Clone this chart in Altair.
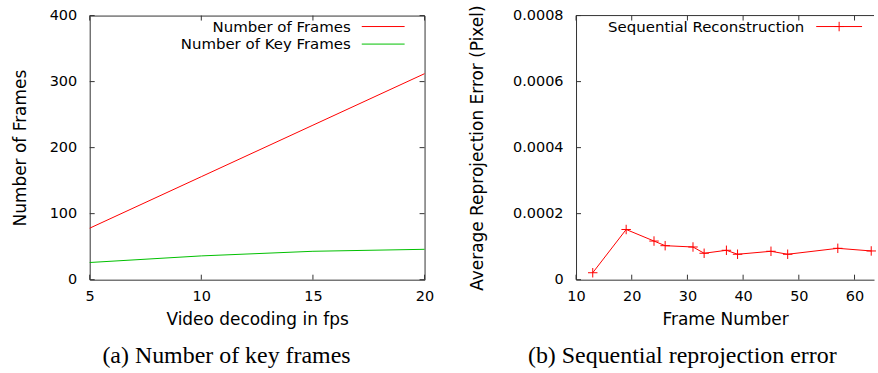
import altair as alt
import pandas as pd

# ---- data ----
fps = [5, 10, 15, 20]
num_frames = [78, 156, 234, 312]
num_key_frames = [26, 36, 43, 46]

frame_number = [13, 19, 24, 26, 31, 33, 37, 39, 45, 48, 57, 63]
reproj_error = [0.000021, 0.000152, 0.000117, 0.000103, 0.000099, 0.000080,
                0.000089, 0.000077, 0.000086, 0.000077, 0.000095, 0.000087]

left_xticks = [5, 10, 15, 20]
left_yticks = [0, 100, 200, 300, 400]
right_xticks = [10, 20, 30, 40, 50, 60]
right_yticks = [0, 0.0002, 0.0004, 0.0006, 0.0008]

series_names = ["Number of Frames", "Number of Key Frames"]
series_colors = ["#ff0000", "#00c000"]

FONT = "DejaVu Sans"
W1, W2, H = 336, 299, 265
TK = 5
FRAME = "#333333"
LBL = 14.5
TTL = 17
LEG = 15
CAP = 24

# ---- left panel ----
df_left = pd.DataFrame({
    "fps": fps * 2,
    "value": num_frames + num_key_frames,
    "series": [series_names[0]] * len(fps) + [series_names[1]] * len(fps),
})
xs1 = alt.Scale(domain=[5, 20], nice=False)
ys1 = alt.Scale(domain=[0, 400], nice=False)

xaxis1 = alt.Axis(values=left_xticks, title="Video decoding in fps", tickSize=0, domain=False,
                  grid=False, labelPadding=10, titlePadding=8, labelFlush=False)
yaxis1 = alt.Axis(values=left_yticks, title="Number of Frames", tickSize=0, domain=False,
                  grid=False, labelPadding=13, titlePadding=20, labelFlush=False)

lines1 = alt.Chart(df_left).mark_line(strokeWidth=1).encode(
    x=alt.X("fps:Q", scale=xs1, axis=xaxis1),
    y=alt.Y("value:Q", scale=ys1, axis=yaxis1),
    color=alt.Color("series:N", scale=alt.Scale(domain=series_names, range=series_colors), legend=None),
    detail="series:N",
)

xt1 = pd.DataFrame({"v": left_xticks})
yt1 = pd.DataFrame({"v": left_yticks})
ticks1 = [
    alt.Chart(xt1).mark_rule(color=FRAME).encode(x=alt.X("v:Q", scale=xs1), y=alt.value(H), y2=alt.value(H - TK)),
    alt.Chart(xt1).mark_rule(color=FRAME).encode(x=alt.X("v:Q", scale=xs1), y=alt.value(0), y2=alt.value(TK)),
    alt.Chart(yt1).mark_rule(color=FRAME).encode(y=alt.Y("v:Q", scale=ys1), x=alt.value(0), x2=alt.value(TK)),
    alt.Chart(yt1).mark_rule(color=FRAME).encode(y=alt.Y("v:Q", scale=ys1), x=alt.value(W1), x2=alt.value(W1 - TK)),
]

leg1 = []
for i, (name, col) in enumerate(zip(series_names, series_colors)):
    yy = 11 + 17.6 * i
    leg1.append(alt.Chart().mark_text(text=name, align="right", baseline="middle", font=FONT,
                                      fontSize=LEG, color="black")
                .encode(x=alt.value(262), y=alt.value(yy)))
    leg1.append(alt.Chart().mark_rule(color=col, strokeWidth=1)
                .encode(x=alt.value(273), x2=alt.value(316), y=alt.value(yy)))

left = alt.layer(lines1, *ticks1, *leg1).properties(
    width=W1, height=H,
    view=alt.ViewBackground(stroke=FRAME, strokeWidth=1),
    title=alt.TitleParams("(a) Number of key frames", orient="bottom", anchor="middle", frame="bounds",
                          font="Liberation Serif", fontSize=CAP, fontWeight="normal", color="black",
                          offset=17, dx=4),
)

# ---- right panel ----
df_right = pd.DataFrame({"frame": frame_number, "err": reproj_error})
xs2 = alt.Scale(domain=[10, 63.5], nice=False)
ys2 = alt.Scale(domain=[0, 0.0008], nice=False)

xaxis2 = alt.Axis(values=right_xticks, title="Frame Number", tickSize=0, domain=True, domainColor=FRAME,
                  grid=False, labelPadding=10, titlePadding=8, labelFlush=False)
yaxis2 = alt.Axis(values=right_yticks, title="Average Reprojection Error (Pixel)", tickSize=0, domain=True,
                  domainColor=FRAME, grid=False, labelPadding=13, titlePadding=26, labelFlush=False,
                  labelExpr="datum.value == 0 ? '0' : format(datum.value, '.4f')")

PLUS = "M-1,0H1M0,-1V1"
base2 = alt.Chart(df_right).encode(
    x=alt.X("frame:Q", scale=xs2, axis=xaxis2),
    y=alt.Y("err:Q", scale=ys2, axis=yaxis2),
)
line2 = base2.mark_line(color="#ff0000", strokeWidth=1)
pts2 = base2.mark_point(shape=PLUS, size=90, filled=False, color="#ff0000", strokeWidth=1, opacity=1)

xt2 = pd.DataFrame({"v": right_xticks})
yt2 = pd.DataFrame({"v": right_yticks})
ticks2 = [
    alt.Chart(xt2).mark_rule(color=FRAME).encode(x=alt.X("v:Q", scale=xs2), y=alt.value(H), y2=alt.value(H - TK)),
    alt.Chart(xt2).mark_rule(color=FRAME).encode(x=alt.X("v:Q", scale=xs2), y=alt.value(0), y2=alt.value(TK)),
    alt.Chart(yt2).mark_rule(color=FRAME).encode(y=alt.Y("v:Q", scale=ys2), x=alt.value(0), x2=alt.value(TK)),
    alt.Chart().mark_rule(color=FRAME).encode(x=alt.value(0), x2=alt.value(W2), y=alt.value(0)),
]

leg2 = [
    alt.Chart().mark_text(text="Sequential Reconstruction", align="right", baseline="middle", font=FONT,
                          fontSize=LEG, color="black").encode(x=alt.value(229), y=alt.value(11)),
    alt.Chart().mark_rule(color="#ff0000", strokeWidth=1).encode(x=alt.value(241), x2=alt.value(287),
                                                                 y=alt.value(11)),
    alt.Chart().mark_point(shape=PLUS, size=90, filled=False, color="#ff0000", strokeWidth=1, opacity=1)
    .encode(x=alt.value(264), y=alt.value(11)),
]

right = alt.layer(line2, pts2, *ticks2, *leg2).properties(
    width=W2, height=H,
    view=alt.ViewBackground(stroke=None),
    title=alt.TitleParams("(b) Sequential reprojection error", orient="bottom", anchor="middle",
                          frame="bounds", font="Liberation Serif", fontSize=CAP, fontWeight="normal",
                          color="black", offset=17, dx=9),
)

chart = alt.hconcat(left, right, spacing=34).properties(
    padding={"left": 10, "top": 4, "right": 0, "bottom": 0},
).configure_axis(
    labelFont=FONT, labelFontSize=LBL, labelColor="black",
    titleFont=FONT, titleFontSize=TTL, titleColor="black", titleFontWeight="normal",
).configure_view(stroke=None)

chart.save("out.html", embed_options={"renderer": "svg", "actions": False})
